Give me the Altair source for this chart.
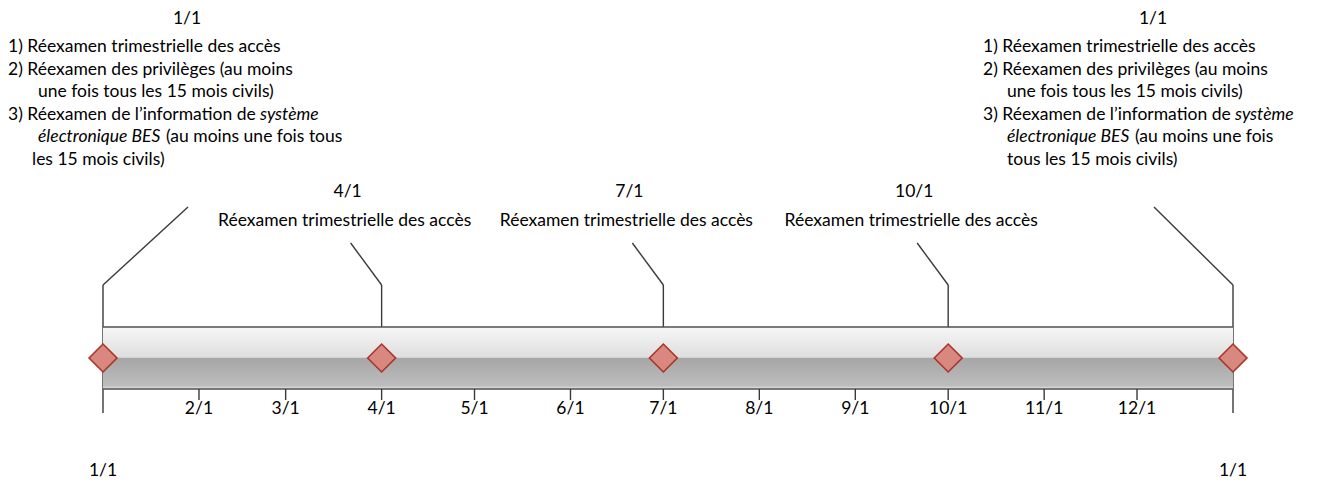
import altair as alt
import pandas as pd

# ---------------- data ----------------
START = pd.Timestamp("2023-01-01")
END = pd.Timestamp("2024-01-01")

event_dates = ["2023-01-01", "2023-04-01", "2023-07-01", "2023-10-01", "2024-01-01"]
event_labels = ["1/1", "4/1", "7/1", "10/1", "1/1"]
event_kind = ["annual", "quarter", "quarter", "quarter", "annual"]

month_dates = ["2023-02-01", "2023-03-01", "2023-04-01", "2023-05-01", "2023-06-01",
               "2023-07-01", "2023-08-01", "2023-09-01", "2023-10-01", "2023-11-01",
               "2023-12-01"]
month_labels = ["2/1", "3/1", "4/1", "5/1", "6/1", "7/1", "8/1", "9/1", "10/1", "11/1", "12/1"]

end_labels = ["1/1", "1/1"]
end_dates = ["2023-01-01", "2024-01-01"]

quarter_text = "Réexamen trimestrielle des accès"

# annual blocks: each line is a list of (segment, italic)
left_block = [
    [("1) Réexamen trimestrielle des accès", False)],
    [("2) Réexamen des privilèges (au moins", False)],
    [("une fois tous les 15 mois civils)", False)],
    [("3) Réexamen de l’information de", False), ("système", True)],
    [("électronique BES", True), ("(au moins une fois tous", False)],
    [("les 15 mois civils)", False)],
]
right_block = [
    [("1) Réexamen trimestrielle des accès", False)],
    [("2) Réexamen des privilèges (au moins", False)],
    [("une fois tous les 15 mois civils)", False)],
    [("3) Réexamen de l’information de", False), ("système", True)],
    [("électronique BES", True), ("(au moins une fois", False)],
    [("tous les 15 mois civils)", False)],
]

# ---------------- layout ----------------
W = 1130
H = 471
TOTAL_DAYS = (END - START).days
PPD = W / TOTAL_DAYS
FONT = "Lato"
FS = 17.5
LINE = 22.6
INK = "#3a3a3a"


def day(d):
    return (pd.Timestamp(d) - START).days


def Y(v):
    return v - 8


def off(px):
    return px / PPD


xs = alt.Scale(domain=[0, TOTAL_DAYS], nice=False, zero=False)


def X(f="d"):
    return alt.X(f"{f}:Q", scale=xs, axis=None)


ev = pd.DataFrame({"d": [day(d) for d in event_dates], "label": event_labels, "kind": event_kind})
ann = ev[ev.kind == "annual"]
qtr = ev[ev.kind == "quarter"]

# vertical lines through annual events
annual_rules = alt.Chart(ann).mark_rule(color=INK, strokeWidth=1.4).encode(
    x=X(), y=alt.value(Y(285)), y2=alt.value(Y(413)))
quarter_rules = alt.Chart(qtr).mark_rule(color=INK, strokeWidth=1.4).encode(
    x=X(), y=alt.value(Y(285)), y2=alt.value(Y(327)))

# diagonal connectors
diag_rows = []
for i, r in ev.iterrows():
    if i == 0:
        dx, ytop = 85, 207
    elif i == len(ev) - 1:
        dx, ytop = -79, 207
    else:
        dx, ytop = -31, 243
    diag_rows.append({"d": r.d, "d2": r.d + off(dx), "yt": ytop})
diag = pd.DataFrame(diag_rows)
diag_layers = [
    alt.Chart(diag.iloc[[k]]).mark_rule(color=INK, strokeWidth=1.4).encode(
        x=X(), x2="d2:Q", y=alt.value(Y(285)), y2=alt.value(Y(row.yt)))
    for k, row in diag.iterrows()
]

# band
band = pd.DataFrame({"d": [0], "d2": [TOTAL_DAYS]})
grad = alt.Gradient(
    gradient="linear",
    stops=[alt.GradientStop(color="#f7f7f7", offset=0),
           alt.GradientStop(color="#dedede", offset=0.49),
           alt.GradientStop(color="#a6a6a6", offset=0.5),
           alt.GradientStop(color="#bdbdbd", offset=0.95),
           alt.GradientStop(color="#ebebeb", offset=1)],
    x1=0, x2=0, y1=0, y2=1)
band_rect = alt.Chart(band).mark_rect(fill=grad).encode(
    x=X(), x2="d2:Q", y=alt.value(Y(327)), y2=alt.value(Y(389)))
band_top = alt.Chart(band).mark_rule(color="#505050", strokeWidth=1.7).encode(
    x=X(), x2="d2:Q", y=alt.value(Y(327)))
band_bot = alt.Chart(band).mark_rule(color="#505050", strokeWidth=1.7).encode(
    x=X(), x2="d2:Q", y=alt.value(Y(389)))

# month ticks
months = pd.DataFrame({"d": [day(d) for d in month_dates], "label": month_labels})
month_ticks = alt.Chart(months).mark_rule(color=INK, strokeWidth=1.4).encode(
    x=X(), y=alt.value(Y(389)), y2=alt.value(Y(400)))
month_text = alt.Chart(months).mark_text(font=FONT, fontSize=FS, color="#000", baseline="middle").encode(
    x=X(), y=alt.value(Y(409)), text="label:N")

ends = pd.DataFrame({"d": [day(d) for d in end_dates], "label": end_labels})
end_text = alt.Chart(ends).mark_text(font=FONT, fontSize=FS, color="#000", baseline="alphabetic").encode(
    x=X(), y=alt.value(Y(476)), text="label:N")

# diamonds
diamonds = alt.Chart(ev).mark_point(shape="diamond", filled=True, fill="#d98880", stroke="#a8342a",
                                    strokeWidth=1.6, size=780, opacity=1).encode(
    x=X(), y=alt.value(Y(358)))

# quarter labels
q_rows = []
for _, r in qtr.iterrows():
    q_rows.append({"d": r.d + off(-34), "text": r.label, "y": Y(192)})
    q_rows.append({"d": r.d + off(-37), "text": quarter_text, "y": Y(221)})
qdf = pd.DataFrame(q_rows)
q_text = alt.Chart(qdf).mark_text(font=FONT, fontSize=FS, color="#000", baseline="middle").encode(
    x=X(), y=alt.Y("y:Q", scale=None), text="text:N")

# annual blocks
block_rows = []


def add_block(d0, lines, title_dx, base_dx, indents, seg_dx):
    block_rows.append({"d": d0 + off(title_dx), "text": "1/1", "y": Y(19), "it": False, "al": "center"})
    for li, segs in enumerate(lines):
        yy = Y(47 + LINE * li)
        for si, (s, it) in enumerate(segs):
            px = base_dx + indents[li] + (seg_dx.get(li, [0, 0])[si] if si > 0 else 0)
            block_rows.append({"d": d0 + off(px), "text": s, "y": yy, "it": it, "al": "left"})


add_block(0, left_block, 84, -95, [0, 0, 30, 0, 30, 24], {3: [0, 252], 4: [0, 128]})
add_block(TOTAL_DAYS, right_block, -80, -250, [0, 0, 24, 0, 24, 24], {3: [0, 252], 4: [0, 128]})
bdf = pd.DataFrame(block_rows)

b_center = alt.Chart(bdf[bdf.al == "center"]).mark_text(
    font=FONT, fontSize=FS, color="#000", baseline="middle", align="center").encode(
    x=X(), y=alt.Y("y:Q", scale=None), text="text:N")
b_norm = alt.Chart(bdf[(bdf.al == "left") & (~bdf.it)]).mark_text(
    font=FONT, fontSize=FS, color="#000", baseline="middle", align="left").encode(
    x=X(), y=alt.Y("y:Q", scale=None), text="text:N")
b_ital = alt.Chart(bdf[(bdf.al == "left") & (bdf.it)]).mark_text(
    font=FONT, fontSize=FS, color="#000", baseline="middle", align="left", fontStyle="italic").encode(
    x=X(), y=alt.Y("y:Q", scale=None), text="text:N")

chart = alt.layer(
    annual_rules, quarter_rules, *diag_layers, band_rect, band_top, band_bot,
    month_ticks, diamonds, month_text, end_text, q_text, b_center, b_norm, b_ital
).properties(
    width=W, height=H,
    padding={"left": 95, "top": 0, "right": 87, "bottom": 0},
    autosize=alt.AutoSizeParams(type="none"),
).configure_view(stroke=None)

chart.save("out.html", embed_options={"renderer": "svg", "actions": False})
